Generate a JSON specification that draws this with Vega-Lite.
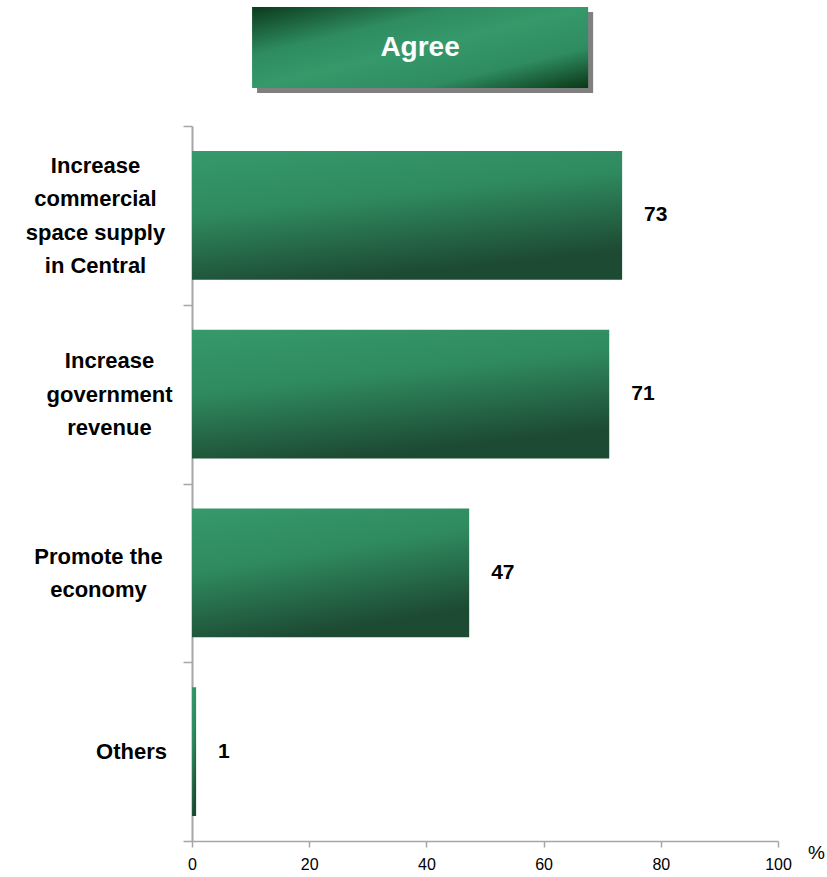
{
  "$schema": "https://vega.github.io/schema/vega-lite/v6.json",
  "padding": {"left": 25, "top": 7, "right": 0, "bottom": 0},
  "background": "white",
  "config": {
    "view": {"stroke": null},
    "font": "Liberation Sans"
  },
  "align": "none",
  "spacing": 22,
  "vconcat": [
    {
      "width": 586,
      "height": 81,
      "data": {"values": [{"t": "Agree"}]},
      "encoding": {
        "x": {"datum": 10.25, "type": "quantitative", "scale": {"domain": [0, 100], "nice": false, "zero": false}, "axis": null},
        "x2": {"datum": 67.6},
        "y": {"datum": 0, "type": "quantitative", "scale": {"domain": [0, 1], "nice": false, "zero": false}, "axis": null},
        "y2": {"datum": 1}
      },
      "layer": [
        {
          "mark": {"type": "rect", "fill": "#808080", "xOffset": 5, "x2Offset": 5, "yOffset": 5, "y2Offset": 5}
        },
        {
          "mark": {
            "type": "rect",
            "fill": {
              "gradient": "linear",
              "x1": 0, "y1": 0, "x2": 1, "y2": 1,
              "stops": [
                {"offset": 0, "color": "#0b3a1b"},
                {"offset": 0.3, "color": "#2e8c60"},
                {"offset": 0.5, "color": "#35996a"},
                {"offset": 0.75, "color": "#2f8c61"},
                {"offset": 1, "color": "#0a3716"}
              ]
            }
          }
        },
        {
          "mark": {"type": "text", "color": "white", "fontSize": 28, "fontWeight": "bold", "align": "center", "baseline": "middle"},
          "encoding": {
            "text": {"field": "t"},
            "x": {"datum": 38.92, "type": "quantitative"},
            "x2": null,
            "y": {"datum": 0.5, "type": "quantitative"},
            "y2": null
          }
        }
      ]
    },
    {
      "width": 586,
      "height": 715,
      "data": {
        "values": [
          {"reason": "Increase|commercial|space supply|in Central", "pct": 73.4},
          {"reason": "Increase|government|revenue", "pct": 71.2},
          {"reason": "Promote the|economy", "pct": 47.3},
          {"reason": "Others", "pct": 0.7}
        ]
      },
      "encoding": {
        "y": {
          "field": "reason",
          "type": "nominal",
          "sort": null,
          "scale": {"paddingInner": 0, "paddingOuter": 0},
          "axis": {
            "title": null,
            "domainColor": "#a6a6a6",
            "domainWidth": 2,
            "tickColor": "#a6a6a6",
            "tickWidth": 1.5,
            "tickSize": 9,
            "tickBand": "extent",
            "labelExpr": "split(datum.label, '|')",
            "labelFont": "Liberation Sans",
            "labelFontSize": 22,
            "labelFontWeight": "bold",
            "labelColor": "#000000",
            "labelAlign": "center",
            "labelBaseline": "middle",
            "labelLineHeight": 33.5,
            "labelOffset": {
              "condition": [
                {"test": "datum.value === 'Increase|commercial|space supply|in Central'", "value": -50},
                {"test": "datum.value === 'Increase|government|revenue'", "value": -33.5},
                {"test": "datum.value === 'Promote the|economy'", "value": -16.75}
              ],
              "value": 0
            },
            "labelPadding": {
              "condition": [
                {"test": "datum.value === 'Increase|commercial|space supply|in Central'", "value": 88},
                {"test": "datum.value === 'Increase|government|revenue'", "value": 74},
                {"test": "datum.value === 'Promote the|economy'", "value": 85}
              ],
              "value": 52
            },
            "labelLimit": 0
          }
        },
        "x": {
          "field": "pct",
          "type": "quantitative",
          "scale": {"domain": [0, 100], "nice": false},
          "axis": {
            "values": [0, 20, 40, 60, 80, 100],
            "grid": false,
            "domainColor": "#a6a6a6",
            "domainWidth": 1.5,
            "tickColor": "#a6a6a6",
            "tickWidth": 1.5,
            "tickSize": 6,
            "labelFont": "Liberation Sans",
            "labelFontSize": 16,
            "labelColor": "#000000",
            "labelPadding": 9,
            "labelFlush": false,
            "title": "%",
            "titleFont": "Liberation Sans",
            "titleFontSize": 19,
            "titleFontWeight": "normal",
            "titleColor": "#000000",
            "titleX": 624,
            "titleY": 11,
            "titleAlign": "center",
            "titleBaseline": "middle"
          }
        }
      },
      "layer": [
        {
          "mark": {
            "type": "bar",
            "height": {"band": 0.72},
            "fill": {
              "gradient": "linear",
              "x1": 0, "y1": 0, "x2": 0.35, "y2": 1,
              "stops": [
                {"offset": 0, "color": "#36996b"},
                {"offset": 0.45, "color": "#2f8a5f"},
                {"offset": 1, "color": "#1d4a33"}
              ]
            }
          }
        },
        {
          "mark": {"type": "text", "align": "left", "baseline": "middle", "dx": 22, "fontSize": 21, "fontWeight": "bold", "color": "#000000"},
          "encoding": {"text": {"field": "pct", "type": "quantitative", "format": ".0f"}}
        }
      ]
    }
  ]
}
